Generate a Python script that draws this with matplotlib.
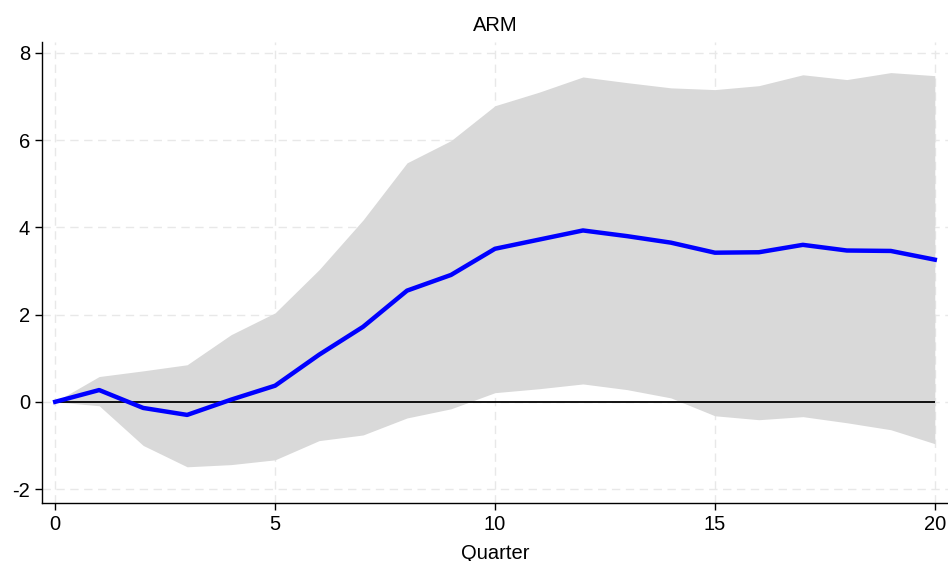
import matplotlib.pyplot as plt

plt.rcParams['font.family'] = ['Liberation Sans', 'DejaVu Sans']
plt.rcParams['axes.unicode_minus'] = False

# impulse response and confidence band
quarter = list(range(21))
irf = [0.0, 0.27, -0.14, -0.30, 0.05, 0.37, 1.08, 1.72, 2.55, 2.91, 3.51,
       3.72, 3.93, 3.80, 3.65, 3.42, 3.43, 3.60, 3.47, 3.46, 3.26]
upper = [0.0, 0.58, 0.71, 0.85, 1.54, 2.04, 3.03, 4.17, 5.48, 5.99, 6.79,
         7.10, 7.45, 7.32, 7.20, 7.16, 7.25, 7.50, 7.39, 7.55, 7.48]
lower = [0.0, -0.09, -1.00, -1.49, -1.44, -1.33, -0.89, -0.76, -0.37, -0.16, 0.21,
         0.30, 0.41, 0.28, 0.09, -0.32, -0.41, -0.34, -0.48, -0.64, -0.96]
xticks = [0, 5, 10, 15, 20]
yticks = [-2, 0, 2, 4, 6, 8]

fig = plt.figure(figsize=(9.48, 5.61), dpi=100)
ax = fig.add_axes([0.0443, 0.1034, 0.9557, 0.8216])

ax.fill_between(quarter, lower, upper, color="#d9d9d9", lw=0, zorder=2)
ax.hlines(0, quarter[0], quarter[-1], color="black", lw=1.3, zorder=3)
ax.plot(quarter, irf, color="blue", lw=3.2, zorder=4)

ax.set_xlim(-0.3, 20.3)
ax.set_ylim(-2.32, 8.25)
ax.set_xticks(xticks)
ax.set_yticks(yticks)
ax.grid(True, color="#e8e8e8", ls=(0, (6, 4)), lw=1.0, zorder=0)
ax.set_axisbelow(True)

for s in ["top", "right"]:
    ax.spines[s].set_visible(False)
for s in ["left", "bottom"]:
    ax.spines[s].set_linewidth(1.0)

ax.tick_params(labelsize=14.5, length=5, width=1.0, direction="out")
ax.set_xlabel("Quarter", fontsize=14.5, labelpad=7)
ax.set_title("ARM", fontsize=14.5, pad=8)

fig.savefig("out.png", dpi=100)
